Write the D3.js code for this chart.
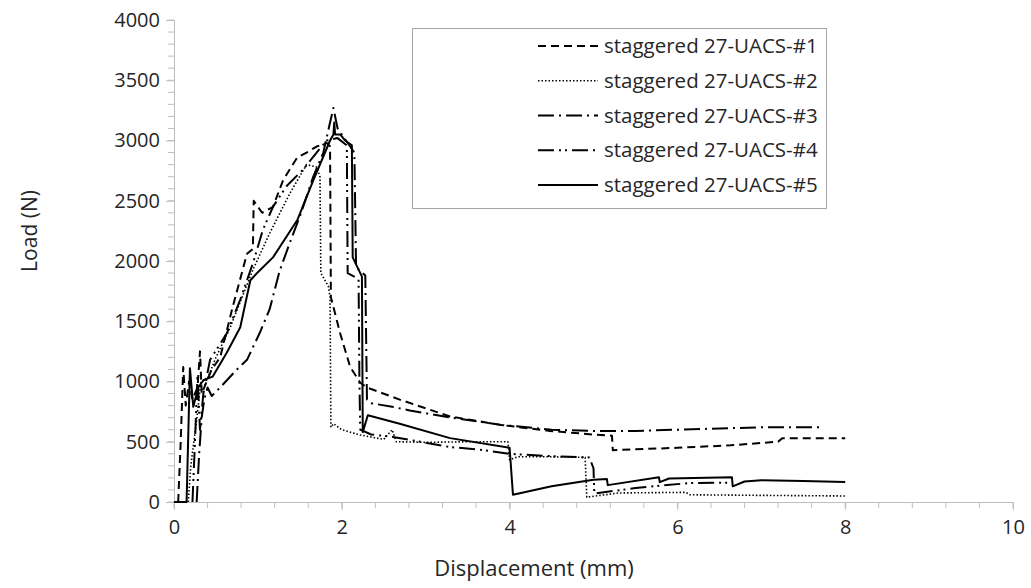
<!DOCTYPE html>
<html><head><meta charset="utf-8">
<script src="https://cdn.jsdelivr.net/npm/d3@7"></script>
<style>body{margin:0;background:#fff}svg{display:block}text{font-family:"Open Sans",sans-serif;fill:#262626}</style>
</head><body><svg id="c" width="1031" height="588"></svg>
<script>
const seriesNames = ["staggered 27-UACS-#1","staggered 27-UACS-#2","staggered 27-UACS-#3","staggered 27-UACS-#4","staggered 27-UACS-#5"];
const xTicks = [0,2,4,6,8,10];
const yTicks = [0,500,1000,1500,2000,2500,3000,3500,4000];
// [displacement mm, load N]
const s1 = [[0.05,0],[0.08,500],[0.11,1120],[0.14,800],[0.18,1000],[0.22,850],[0.28,950],[0.31,1250],[0.33,900],[0.45,1100],[0.55,1200],[0.7,1620],[0.87,2060],[0.94,2100],[0.95,2500],[1.05,2400],[1.18,2450],[1.3,2670],[1.47,2860],[1.58,2900],[1.7,2950],[1.82,2980],[1.86,2950],[1.87,1700],[1.98,1400],[2.1,1120],[2.22,990],[2.3,950],[2.69,850],[3.29,710],[3.89,640],[4.48,590],[5.0,560],[5.22,550],[5.23,430],[6.0,450],[6.63,470],[7.0,490],[7.2,500],[7.25,530],[8.0,530]];
const s2 = [[0.17,0],[0.2,300],[0.27,680],[0.32,1000],[0.39,1010],[0.5,1200],[0.67,1450],[0.94,1926],[1.14,2230],[1.38,2560],[1.58,2800],[1.7,2780],[1.74,2700],[1.75,1900],[1.84,1790],[1.86,1700],[1.87,620],[1.9,650],[2.0,600],[2.22,556],[2.5,520],[2.6,600],[2.65,500],[2.81,498],[3.0,495],[3.5,500],[3.98,500],[4.0,350],[4.1,375],[4.5,375],[4.9,370],[4.92,40],[5.3,75],[6.1,80],[6.15,60],[7.0,55],[8.0,50]];
const s3 = [[0.27,0],[0.3,400],[0.33,700],[0.36,850],[0.4,950],[0.45,880],[0.55,950],[0.75,1100],[0.87,1180],[1.02,1400],[1.14,1600],[1.26,1920],[1.38,2150],[1.5,2370],[1.66,2700],[1.78,2900],[1.86,3150],[1.9,3270],[1.95,3100],[2.05,3000],[2.15,2900],[2.17,1950],[2.28,1880],[2.3,850],[2.35,820],[2.6,790],[2.81,760],[3.3,700],[3.9,640],[4.5,600],[5.0,590],[5.5,590],[6.0,600],[6.5,610],[7.0,620],[7.7,620]];
const s4 = [[0.22,0],[0.25,500],[0.28,1050],[0.31,600],[0.35,900],[0.43,1180],[0.63,1400],[0.79,1680],[0.94,1980],[1.06,2260],[1.18,2450],[1.34,2620],[1.54,2760],[1.7,2900],[1.82,3000],[1.95,3020],[2.06,2960],[2.07,1900],[2.2,1850],[2.21,1000],[2.22,600],[2.35,560],[2.61,540],[3.29,456],[3.68,432],[4.0,400],[4.5,380],[4.95,370],[5.0,280],[5.01,70],[5.5,116],[6.15,158],[6.6,160]];
const s5 = [[0.0,0],[0.15,0],[0.19,1110],[0.23,790],[0.29,950],[0.35,1010],[0.46,1040],[0.63,1240],[0.79,1450],[0.91,1840],[0.99,1900],[1.18,2030],[1.47,2340],[1.66,2670],[1.86,3000],[1.9,3050],[1.91,3150],[1.92,3050],[1.98,3050],[2.04,3000],[2.12,2960],[2.13,2030],[2.24,1870],[2.25,580],[2.31,720],[2.69,650],[3.29,530],[4.0,450],[4.04,60],[4.5,130],[5.0,185],[5.16,190],[5.17,140],[5.78,205],[5.79,165],[5.9,195],[6.65,205],[6.66,130],[6.8,170],[7.0,180],[7.5,175],[8.0,165]];

const allSeries = [s1,s2,s3,s4,s5];
const dashes = ["8,5","1.5,2","16,5,2,5","16,5,2,4,2,5",null];
const widths = [2,1.6,2,2,2];

const svg = d3.select("#c");
const m = {l:174, r:1013, t:20, b:502};
const x = d3.scaleLinear().domain([0,10]).range([m.l,m.r]);
const y = d3.scaleLinear().domain([0,4000]).range([m.b,m.t]);
const axisCol = "#bfbfbf";

// minor ticks
const gx = svg.append("g");
d3.range(0,10.001,0.4).forEach(v=>{
  gx.append("line").attr("x1",x(v)).attr("x2",x(v)).attr("y1",m.b).attr("y2",m.b+6).attr("stroke",axisCol);
});
d3.range(0,4001,100).forEach(v=>{
  gx.append("line").attr("x1",m.l-6).attr("x2",m.l).attr("y1",y(v)).attr("y2",y(v)).attr("stroke",axisCol);
});
// axes
const xAxis = svg.append("g").attr("transform",`translate(0,${m.b})`)
  .call(d3.axisBottom(x).tickValues(xTicks).tickFormat(d3.format("d")).tickSize(8).tickPadding(10));
const yAxis = svg.append("g").attr("transform",`translate(${m.l},0)`)
  .call(d3.axisLeft(y).tickValues(yTicks).tickFormat(d3.format("d")).tickSize(8).tickPadding(6));
[xAxis,yAxis].forEach(g=>{
  g.selectAll("path,line").attr("stroke",axisCol);
  g.selectAll("text").style("font-family","'Open Sans',sans-serif").style("font-size","20px").attr("fill","#262626");
});

// lines
const line = d3.line().x(d=>x(d[0])).y(d=>y(d[1]));
allSeries.forEach((s,i)=>{
  svg.append("path").datum(s).attr("d",line).attr("fill","none").attr("stroke","#000")
    .attr("stroke-width",widths[i]).attr("stroke-dasharray",dashes[i]).attr("stroke-linejoin","round");
});

// axis titles
svg.append("text").attr("x",534).attr("y",576).attr("text-anchor","middle").style("font-size","22px").text("Displacement (mm)");
svg.append("text").attr("transform","translate(37,231) rotate(-90)").attr("text-anchor","middle").style("font-size","21px").text("Load (N)");

// legend
const lg = svg.append("g");
lg.append("rect").attr("x",412.5).attr("y",28.5).attr("width",414).attr("height",180).attr("fill","#fff").attr("stroke","#a6a6a6");
seriesNames.forEach((n,i)=>{
  const yy = 46 + i*34.75;
  lg.append("line").attr("x1",538).attr("x2",598).attr("y1",yy).attr("y2",yy).attr("stroke","#000")
    .attr("stroke-width",widths[i]).attr("stroke-dasharray",dashes[i]);
  lg.append("text").attr("x",604).attr("y",yy).attr("dy","0.35em").style("font-size","20.5px").text(n);
});
</script></body></html>
